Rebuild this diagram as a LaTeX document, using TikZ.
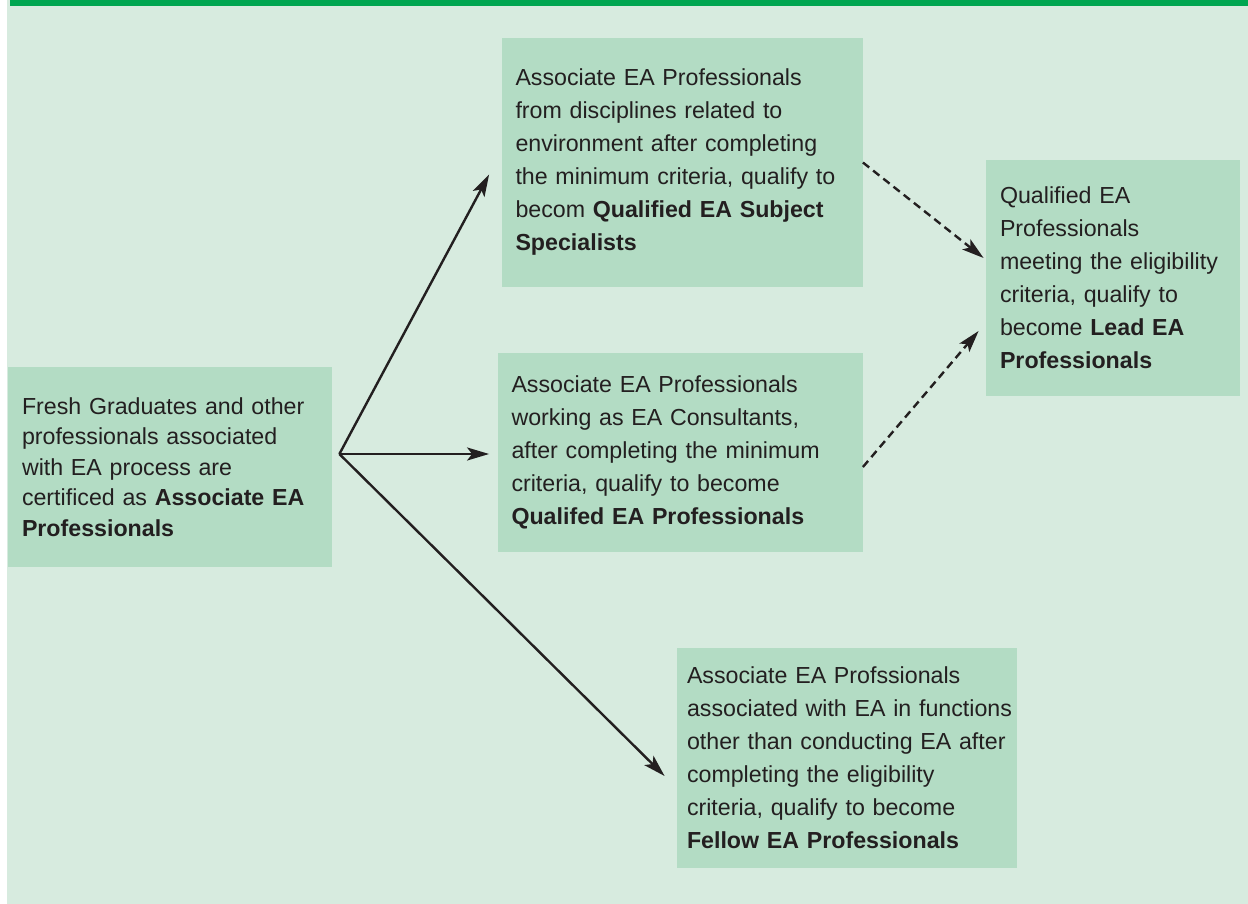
\documentclass[tikz,border=0pt]{standalone}
\usepackage{fontspec}
\setmainfont{Liberation Sans}
\usetikzlibrary{arrows.meta}
\definecolor{bargreen}{RGB}{0,166,81}
\definecolor{bgmint}{RGB}{215,235,223}
\definecolor{boxgreen}{RGB}{179,220,196}
\definecolor{inkgray}{RGB}{35,31,32}
\begin{document}
\begin{tikzpicture}[x=0.5pt,y=-0.5pt,
                       ea box/.style={rectangle,fill=boxgreen,align=left,inner xsep=7pt,inner ysep=0pt,
                                      text=inkgray,font=\fontsize{11.6}{16.5}\selectfont},
                       solid arrow/.style={draw=inkgray,line width=1.2pt,-{Stealth[length=11pt,width=6.5pt,inset=2.5pt]}},
                       dash arrow/.style={solid arrow,dash pattern=on 4pt off 2.5pt}
                               ]
              \useasboundingbox (0,0) rectangle (1248,904);
              \fill[bgmint] (7,0) rectangle (1248,904);
              \fill[bargreen] (10,0) rectangle (1248,6);
              \node[ea box,font=\fontsize{11.6}{15.25}\selectfont,text width=148pt,minimum height=100pt] (fresh) at (170,467)
                {Fresh Graduates and other\\ professionals associated\\ with EA process are\\ certificed as \textbf{Associate EA}\\ \textbf{Professionals}};
              \node[ea box,text width=166.5pt,minimum height=124.5pt] (subj) at (682,162.5)
                {Associate EA Professionals\\ from disciplines related to\\ environment after completing\\ the minimum criteria, qualify to\\ becom \textbf{Qualified EA Subject}\\ \textbf{Specialists}};
              \node[ea box,text width=168.5pt,minimum height=99.5pt] (cons) at (680,452.5)
                {Associate EA Professionals\\ working as EA Consultants,\\ after completing the minimum\\ criteria, qualify to become\\ \textbf{Qualifed EA Professionals}};
              \node[ea box,text width=113pt,minimum height=118pt] (lead) at (1113,278)
                {Qualified EA\\ Professionals\\ meeting the eligibility\\ criteria, qualify to\\ become \textbf{Lead EA}\\ \textbf{Professionals}};
              \node[ea box,inner xsep=5pt,text width=160pt,minimum height=110pt] (fellow) at (847,758)
                {Associate EA Profssionals\\ \mbox{associated with EA in functions}\\ other than conducting EA after\\ completing the eligibility\\ criteria, qualify to become\\ \textbf{Fellow EA Professionals}};
              \coordinate (fan) at ([shift={(7,-13)}]fresh.east); % common start of the three arrows
              \draw[solid arrow] (fan) -- ([shift={(-12,12)}]subj.west);
              \draw[solid arrow] (fan) -- ([shift={(-8,1.5)}]cons.west);
              \draw[solid arrow] (fan) -- ([shift={(-12,18)}]fellow.west);
              \draw[dash arrow] (subj.east) -- ([shift={(-2,-20)}]lead.west);
              \draw[dash arrow] ([shift={(0,14.5)}]cons.east) -- ([shift={(-7,53)}]lead.west);
          \end{tikzpicture}
\end{document}
